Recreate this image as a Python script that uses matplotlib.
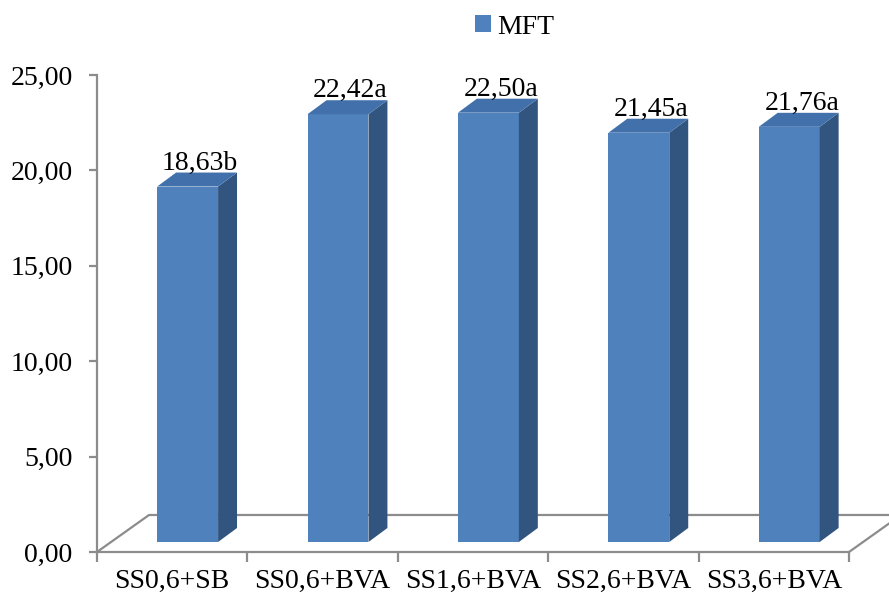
import matplotlib
matplotlib.use("Agg")
import matplotlib.pyplot as plt
from matplotlib.patches import Polygon, Patch

plt.rcParams['font.family'] = ['Liberation Serif', 'DejaVu Serif']

# treatments and mean MFT values with significance letters
categories = ["SS0,6+SB", "SS0,6+BVA", "SS1,6+BVA", "SS2,6+BVA", "SS3,6+BVA"]
mft = [18.63, 22.42, 22.50, 21.45, 21.76]
letters = ["b", "a", "a", "a", "a"]
yticks = [0, 5, 10, 15, 20, 25]

# pseudo-3d geometry, in data units
bar_left = 0.40      # front face left edge inside each category slot
bar_w = 0.405        # front face width
base = 0.524         # bars stand a bit behind the front edge of the floor
depth_x = 0.126      # side/top depth offset
depth_y = 0.734
floor_x = 0.346      # floor depth offset
floor_y = 1.94

front_c = '#4F81BD'
top_c = '#4170AB'
side_c = '#32557F'
axis_c = '#8C8C8C'
fs = 20

fig = plt.figure(figsize=(8.89, 5.95), dpi=100)
ax = fig.add_axes([97 / 889, 43 / 595, 752 / 889, 477 / 595])
ax.set_xlim(0, len(categories))
ax.set_ylim(0, 25)

for s in ['top', 'right']:
    ax.spines[s].set_visible(False)
for s in ['left', 'bottom']:
    ax.spines[s].set_color(axis_c)
    ax.spines[s].set_linewidth(1.6)

# floor of the 3d box
n = len(categories)
ax.plot([0, floor_x, n + floor_x + 0.5], [0, floor_y, floor_y], color=axis_c, lw=1.6, clip_on=False)
ax.plot([n, n + floor_x], [0, floor_y], color=axis_c, lw=1.6, clip_on=False)

for i, v in enumerate(mft):
    x0 = i + bar_left
    x1 = x0 + bar_w
    y0 = base
    y1 = base + v
    front = Polygon([(x0, y0), (x1, y0), (x1, y1), (x0, y1)], closed=True,
                    facecolor=front_c, edgecolor='none', zorder=3)
    side = Polygon([(x1, y0), (x1 + depth_x, y0 + depth_y), (x1 + depth_x, y1 + depth_y), (x1, y1)],
                   closed=True, facecolor=side_c, edgecolor='none', zorder=3)
    top = Polygon([(x0, y1), (x1, y1), (x1 + depth_x, y1 + depth_y), (x0 + depth_x, y1 + depth_y)],
                  closed=True, facecolor=top_c, edgecolor='none', zorder=3)
    for p in (front, side, top):
        ax.add_patch(p)
    label = f"{v:.2f}".replace('.', ',') + letters[i]
    ax.text(x0 + (bar_w + depth_x) / 2 + 0.02, y1 + depth_y + 0.15, label,
            ha='center', va='baseline', fontsize=fs, zorder=4)

ax.set_yticks(yticks)
ax.set_yticklabels([f"{t:.2f}".replace('.', ',') for t in yticks], fontsize=fs)
ax.tick_params(axis='y', direction='out', length=5.5, width=1.6, color=axis_c, pad=12)

ax.set_xticks(range(n + 1))
ax.set_xticklabels([''] * (n + 1))
ax.tick_params(axis='x', which='major', direction='out', length=7, width=1.6, color=axis_c)
ax.set_xticks([i + 0.5 for i in range(n)], minor=True)
ax.set_xticklabels(categories, minor=True, fontsize=fs)
ax.tick_params(axis='x', which='minor', length=0, pad=12)

fig.legend(handles=[Patch(facecolor=front_c, label='MFT')], loc='center',
           bbox_to_anchor=(515 / 889, 1 - 27 / 595), frameon=False, fontsize=fs,
           handlelength=0.55, handleheight=0.55, handletextpad=0.25)

fig.savefig('out.png', dpi=100)
